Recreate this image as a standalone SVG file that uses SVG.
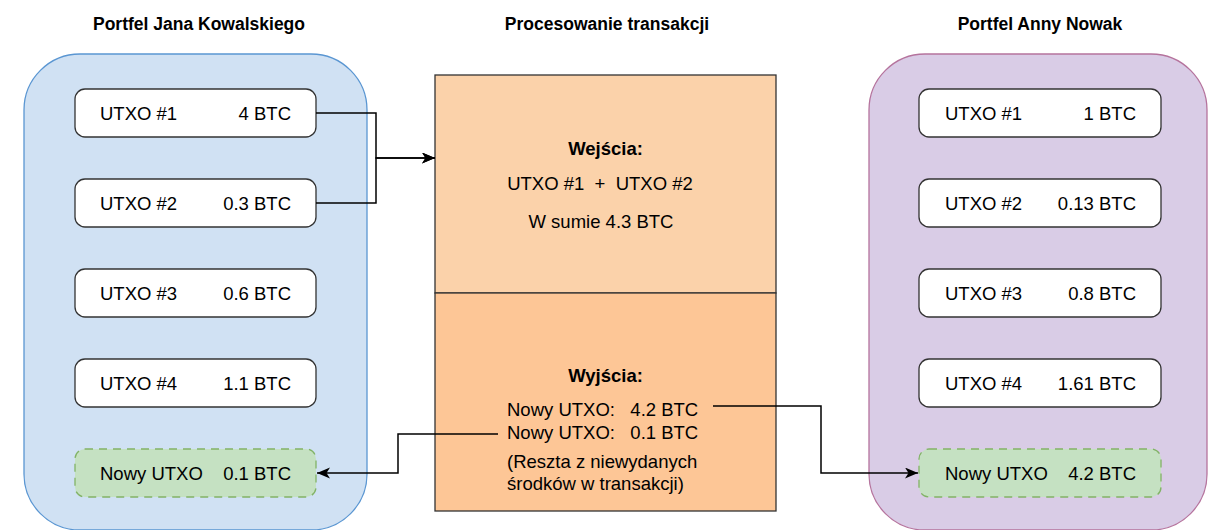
<svg xmlns="http://www.w3.org/2000/svg" width="1208" height="530" viewBox="0 0 1208 530">
<defs>
<style>
text{font-family:"Liberation Sans",Arial,sans-serif;font-size:18.5px;fill:#000}
.title{font-weight:bold;font-size:17.5px;text-anchor:middle}
.b{font-weight:bold}
.mid{text-anchor:middle}
.end{text-anchor:end}
.utxo{fill:#fff;stroke:#333;stroke-width:1.3}
.new{fill:#c5e1c2;stroke:#82b366;stroke-width:1.3;stroke-dasharray:8 6}
.conn{fill:none;stroke:#000;stroke-width:1.5}
</style>
<marker id="arr" markerUnits="userSpaceOnUse" markerWidth="14" markerHeight="12" refX="13" refY="5.5" orient="auto">
<path d="M0,0 L13,5.5 L0,11 L3.5,5.5 z" fill="#000"/>
</marker>
</defs>

<text class="title" x="199" y="30">Portfel Jana Kowalskiego</text>
<text class="title" x="607" y="30">Procesowanie transakcji</text>
<text class="title" x="1040" y="30">Portfel Anny Nowak</text>

<g id="wallet-jan">
<rect x="24" y="54" width="343" height="476" rx="56" fill="#d0e1f3" stroke="#5a96d2" stroke-width="1.3"/>
</g>
<g id="wallet-anna">
<rect x="869" y="54" width="338" height="476" rx="56" fill="#d9cce6" stroke="#b5739d" stroke-width="1.3"/>
</g>

<g id="jan-utxo1"><rect class="utxo" x="75" y="89" width="241" height="48" rx="10"/><text x="100" y="120">UTXO #1</text><text class="end" x="291" y="120">4 BTC</text></g>
<g id="jan-utxo2"><rect class="utxo" x="75" y="179" width="241" height="48" rx="10"/><text x="100" y="210">UTXO #2</text><text class="end" x="291" y="210">0.3 BTC</text></g>
<g id="jan-utxo3"><rect class="utxo" x="75" y="269" width="241" height="48" rx="10"/><text x="100" y="300">UTXO #3</text><text class="end" x="291" y="300">0.6 BTC</text></g>
<g id="jan-utxo4"><rect class="utxo" x="75" y="359" width="241" height="48" rx="10"/><text x="100" y="390">UTXO #4</text><text class="end" x="291" y="390">1.1 BTC</text></g>
<g id="jan-new"><rect class="new" x="75" y="449" width="241" height="48" rx="10"/><text x="100" y="480">Nowy UTXO</text><text class="end" x="291" y="480">0.1 BTC</text></g>

<g id="anna-utxo1"><rect class="utxo" x="919" y="89" width="242" height="48" rx="10"/><text x="945" y="120">UTXO #1</text><text class="end" x="1136" y="120">1 BTC</text></g>
<g id="anna-utxo2"><rect class="utxo" x="919" y="179" width="242" height="48" rx="10"/><text x="945" y="210">UTXO #2</text><text class="end" x="1136" y="210">0.13 BTC</text></g>
<g id="anna-utxo3"><rect class="utxo" x="919" y="269" width="242" height="48" rx="10"/><text x="945" y="300">UTXO #3</text><text class="end" x="1136" y="300">0.8 BTC</text></g>
<g id="anna-utxo4"><rect class="utxo" x="919" y="359" width="242" height="48" rx="10"/><text x="945" y="390">UTXO #4</text><text class="end" x="1136" y="390">1.61 BTC</text></g>
<g id="anna-new"><rect class="new" x="919" y="449" width="242" height="48" rx="10"/><text x="945" y="480">Nowy UTXO</text><text class="end" x="1136" y="480">4.2 BTC</text></g>

<g id="inputs">
<rect x="435" y="75" width="341" height="218" fill="#fbd2aa" stroke="#333" stroke-width="1.3"/>
<text class="b mid" x="605.5" y="155">Wejścia:</text>
<text class="mid" x="600" y="190" xml:space="preserve">UTXO #1  +  UTXO #2</text>
<text class="mid" x="601" y="228">W sumie 4.3 BTC</text>
</g>
<g id="outputs">
<rect x="435" y="293" width="341" height="218" fill="#fdc696" stroke="#333" stroke-width="1.3"/>
<text class="b mid" x="605.5" y="382">Wyjścia:</text>
<text x="507" y="416" xml:space="preserve">Nowy UTXO:   4.2 BTC</text>
<text x="507" y="439" xml:space="preserve">Nowy UTXO:   0.1 BTC</text>
<text x="507" y="468">(Reszta z niewydanych</text>
<text x="507" y="490">środków w transakcji)</text>
</g>

<g id="connectors">
<path class="conn" d="M316,113 H376 V158 H435" marker-end="url(#arr)"/>
<path class="conn" d="M316,203 H376 V158 H435" marker-end="url(#arr)"/>
<path class="conn" d="M498,434 H398 V473 H317" marker-end="url(#arr)"/>
<path class="conn" d="M713,406 H821 V473 H918" marker-end="url(#arr)"/>
</g>
</svg>
